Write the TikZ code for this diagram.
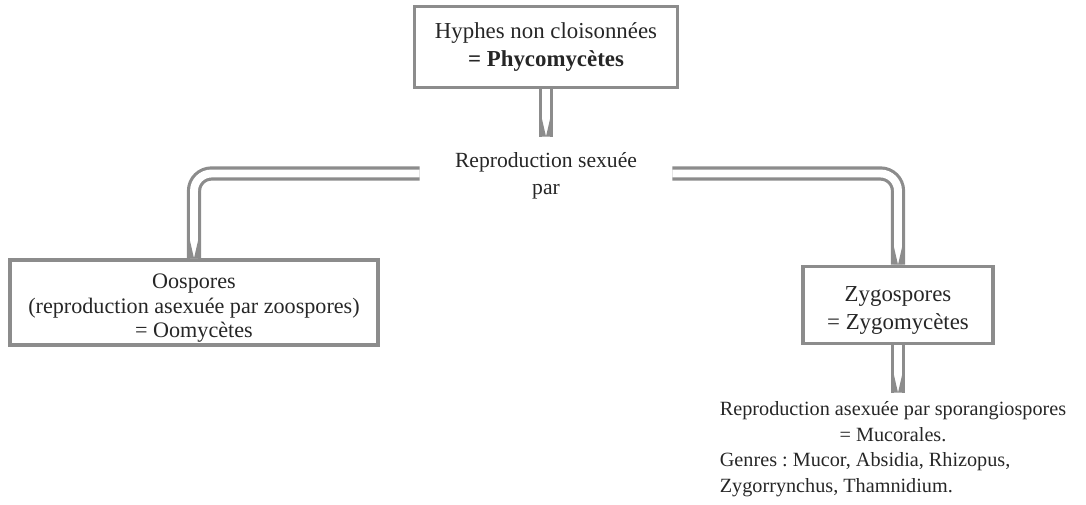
\documentclass[tikz,border=0pt]{standalone}
\usepackage{fontspec}
\setmainfont{Liberation Serif}
\frenchspacing

% pointe blanche en V au bout d'une double fleche descendante
\newcommand\pointe[1]{%
    \fill[black!45, shift={(#1)}] (-2.3pt,10pt) -- (0,0) -- (-2.3pt,0) -- cycle
        (2.3pt,10pt) -- (0,0) -- (2.3pt,0) -- cycle;}

\begin{document}
\begin{tikzpicture}[
        font=\fontsize{11.5}{14.5}\selectfont, text=black!85,
        boite/.style={draw=black!45, line width=2pt, align=center, inner sep=0pt,
            font=\fontsize{13}{15.5}\selectfont},
        fleche/.style={draw=black!45, line width=1.8pt, double=white, double distance=4.5pt,
            rounded corners=0.35cm}
    ]
        \useasboundingbox (0,0) rectangle (21.72,-10.08);

        \node[boite, minimum width=5.26cm, minimum height=1.62cm] (phyco) at (10.92,-0.94)
            {Hyphes non cloisonnées\\ \textbf{= Phycomycètes}};
        \node[align=center, inner xsep=0.7cm, font=\fontsize{12.3}{15.3}\selectfont] (sexuee)
            at (10.92,-3.52) {Reproduction sexuée\\ par};
        \node[boite, minimum width=7.36cm, minimum height=1.7cm,
            font=\fontsize{12.6}{14}\selectfont] (oospores) at (3.88,-6.05)
            {\raisebox{-0.22cm}[0pt][0pt]{\begin{tabular}{@{}c@{}}Oospores\\ (reproduction asexuée par zoospores)\\ = Oomycètes\end{tabular}}};
        \node[boite, minimum width=3.8cm, minimum height=1.54cm,
            font=\fontsize{13}{16}\selectfont] (zygospores) at (17.96,-6.1)
            {\raisebox{-0.2cm}[0pt][0pt]{\begin{tabular}{@{}c@{}}Zygospores\\ = Zygomycètes\end{tabular}}};
        \node[inner sep=0pt] (mucorales) at (17.86,-8.98) {%
            \begin{tabular}{@{}l@{}}
                \multicolumn{1}{@{}c@{}}{Reproduction asexuée par sporangiospores}\\
                \multicolumn{1}{@{}c@{}}{= Mucorales.}\\
                Genres : Mucor, Absidia, Rhizopus,\\
                Zygorrynchus, Thamnidium.
            \end{tabular}};

        \coordinate (bout-sexuee) at ([yshift=0.2cm]sexuee.north);
        \coordinate (bout-mucorales) at ([yshift=0.1cm]zygospores.south |- mucorales.north);

        \draw[fleche] (phyco.south) -- (bout-sexuee);
        \draw[fleche] ([yshift=0.05cm]sexuee.west) -| (oospores.north);
        \draw[fleche] ([yshift=0.05cm]sexuee.east) -| (zygospores.north);
        \draw[fleche] (zygospores.south) -- (bout-mucorales);

        \pointe{bout-sexuee}
        \pointe{oospores.north}
        \pointe{zygospores.north}
        \pointe{bout-mucorales}
    \end{tikzpicture}
\end{document}
